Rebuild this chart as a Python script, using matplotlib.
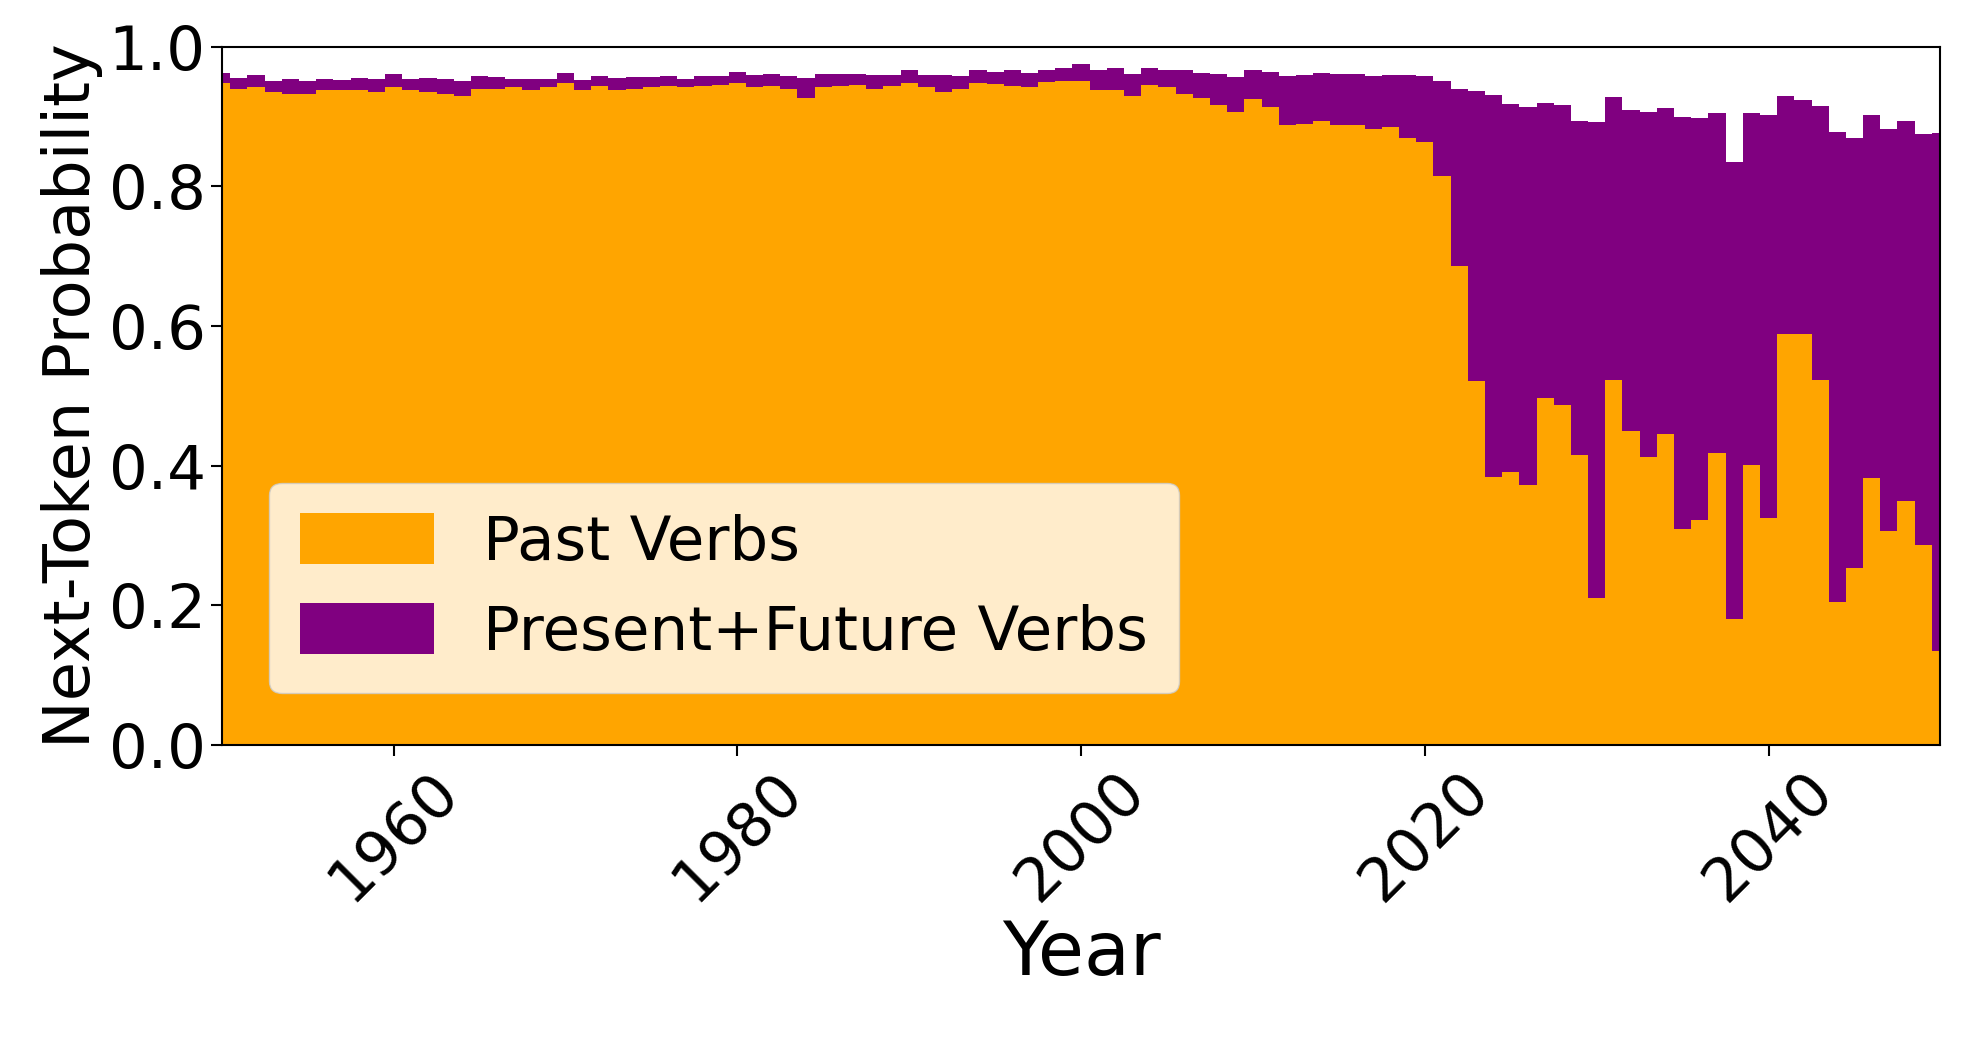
import numpy as np
import matplotlib
matplotlib.use("Agg")
import matplotlib.pyplot as plt

years = np.arange(1950, 2051)

past = [
    .948, .939, .942, .935, .933, .933, .938, .938, .938, .935,
    .942, .938, .935, .933, .929, .939, .939, .942, .938, .942,
    .948, .938, .944, .938, .939, .942, .944, .942, .944, .945,
    .948, .942, .944, .939, .926, .942, .944, .945, .939, .944,
    .948, .942, .935, .939, .948, .947, .944, .942, .950, .951,
    .951, .938, .938, .929, .945, .942, .932, .927, .917, .907,
    .925, .914, .888, .889, .894, .888, .888, .882, .885, .869,
    .864, .815, .686, .521, .384, .391, .372, .497, .487, .416,
    .211, .522, .449, .412, .446, .309, .322, .418, .180, .401,
    .325, .589, .588, .523, .205, .253, .382, .307, .349, .286,
    .134,
]

total = [
    .963, .955, .960, .951, .954, .951, .954, .952, .955, .954,
    .961, .954, .955, .954, .951, .958, .957, .954, .954, .954,
    .963, .952, .958, .955, .957, .957, .958, .954, .958, .958,
    .964, .960, .961, .958, .955, .961, .961, .961, .960, .960,
    .967, .960, .960, .958, .966, .964, .966, .963, .967, .970,
    .975, .967, .970, .961, .970, .967, .966, .963, .961, .957,
    .967, .964, .958, .960, .963, .961, .961, .958, .960, .960,
    .958, .951, .939, .937, .931, .918, .914, .920, .916, .894,
    .892, .928, .909, .906, .912, .899, .898, .905, .835, .905,
    .902, .929, .924, .915, .878, .869, .902, .882, .894, .875,
    .876,
]

past = np.array(past)
future = np.array(total) - past

fig = plt.figure(figsize=(19.62, 10.39), dpi=100)
ax = fig.add_axes([0.113, 0.283, 0.876, 0.672])
ax.bar(years, past, width=1.0, color="orange", label="Past Verbs")
ax.bar(years, future, width=1.0, bottom=past, color="purple", label="Present+Future Verbs")
ax.set_xlim(1950, 2050)
ax.set_ylim(0, 1)
ax.set_xticks([1960, 1980, 2000, 2020, 2040])
ax.set_yticks([0, 0.2, 0.4, 0.6, 0.8, 1.0])
ax.tick_params(axis="both", labelsize=44, length=8, width=1.5)
plt.setp(ax.get_xticklabels(), rotation=45)
ax.set_xlabel("Year", fontsize=54)
ax.set_ylabel("Next-Token Probability", fontsize=46)
for s in ax.spines.values():
    s.set_linewidth(1.5)
ax.legend(loc="lower left", fontsize=44, bbox_to_anchor=(0.01, 0.03),
          handlelength=2.2, handleheight=0.9, borderpad=0.5, labelspacing=0.5)

plt.savefig("out.png", dpi=100)
